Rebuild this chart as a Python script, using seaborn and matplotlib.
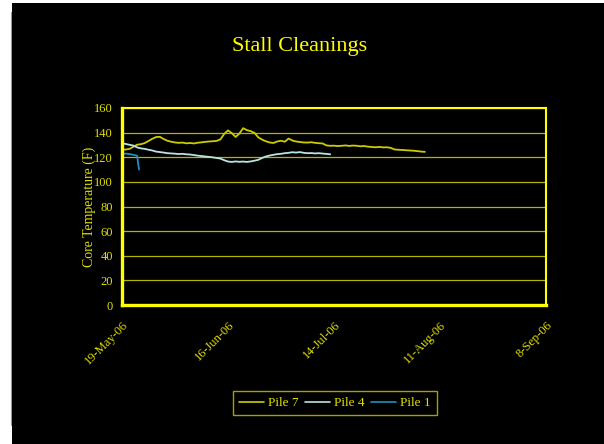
import numpy as np
import pandas as pd
import matplotlib
matplotlib.use("Agg")
import matplotlib.pyplot as plt
import matplotlib.dates as mdates
from matplotlib.patches import Rectangle
from matplotlib.lines import Line2D
import seaborn as sns

# Daily core temperature readings (F), starting 19-May-2006
pile7_start = "2006-05-19"
pile7_temp = [126.0, 126.3, 126.8, 128.5, 130.2, 130.6, 131.5, 133.2, 135.0, 136.4,
              136.6, 134.8, 133.4, 132.6, 132.0, 131.7, 131.9, 131.3, 131.6, 131.2,
              131.8, 132.1, 132.5, 132.8, 133.0, 133.3, 134.5, 139.0, 141.8, 139.6,
              136.5, 139.2, 143.6, 142.0, 141.2, 139.8, 136.2, 134.3, 133.0, 132.0,
              131.6, 132.8, 133.4, 132.6, 135.2, 133.6, 132.8, 132.4, 132.0, 131.9,
              132.2, 131.7, 131.4, 131.2, 129.6, 129.3, 129.4, 129.1, 129.3, 129.6,
              129.2, 129.5, 129.3, 128.9, 129.1, 128.6, 128.3, 128.1, 128.4, 128.0,
              128.1, 127.6, 126.3, 126.1, 125.9, 125.7, 125.5, 125.3, 125.0, 124.6,
              124.4]

pile4_start = "2006-05-19"
pile4_temp = [131.3, 130.8, 130.1, 129.5, 128.0, 127.2, 126.8, 126.1, 125.5, 124.6,
              124.2, 123.8, 123.3, 123.1, 122.9, 122.6, 122.8, 122.4, 122.2, 121.8,
              121.3, 121.0, 120.6, 120.3, 119.9, 119.4, 118.9, 117.6, 116.5, 116.2,
              116.6, 116.3, 116.5, 116.2, 116.6, 117.2, 117.9, 119.4, 120.6, 121.4,
              122.0, 122.5, 122.8, 123.3, 123.6, 124.1, 123.8, 124.2, 123.6, 123.3,
              123.4, 123.1, 123.3, 123.0, 122.7, 122.4]

pile1_times = ["2006-05-19 00:00", "2006-05-20 00:00", "2006-05-21 00:00",
               "2006-05-22 00:00", "2006-05-23 00:00", "2006-05-23 05:00",
               "2006-05-23 12:00"]
pile1_temp = [122.4, 123.0, 122.6, 122.0, 121.2, 116.0, 110.0]

series_names = ["Pile 7", "Pile 4", "Pile 1"]
series_colors = ["#CCCC00", "#B8E4E4", "#1E8FC0"]

tick_dates = ["2006-05-19", "2006-06-16", "2006-07-14", "2006-08-11", "2006-09-08"]
tick_labels = ["19-May-06", "16-Jun-06", "14-Jul-06", "11-Aug-06", "8-Sep-06"]
y_ticks = [0, 20, 40, 60, 80, 100, 120, 140, 160]

frames = [
    pd.DataFrame({"date": pd.date_range(pile7_start, periods=len(pile7_temp), freq="D"),
                  "temp": pile7_temp, "pile": "Pile 7"}),
    pd.DataFrame({"date": pd.date_range(pile4_start, periods=len(pile4_temp), freq="D"),
                  "temp": pile4_temp, "pile": "Pile 4"}),
    pd.DataFrame({"date": pd.to_datetime(pile1_times), "temp": pile1_temp, "pile": "Pile 1"}),
]
df = pd.concat(frames, ignore_index=True)

sns.set_theme(style="dark")
plt.rcParams["font.family"] = ["Liberation Serif", "DejaVu Serif"]

YEL = "#FFFF00"
TXT = "#E0E000"
GRID = "#B4B400"

fig = plt.figure(figsize=(6.04, 4.44), dpi=100, facecolor="white")
fig.patches.append(Rectangle((12 / 604, 0), 1 - 12 / 604, 441 / 444,
                             transform=fig.transFigure, facecolor="black",
                             edgecolor="none", zorder=-5))
fig.lines.append(Line2D([11 / 604, 11 / 604], [19 / 444, 432 / 444],
                        transform=fig.transFigure, color="#9A9A9A", lw=0.8,
                        zorder=-5))

ax = fig.add_axes([122 / 604, 139 / 444, 424 / 604, 197 / 444])
ax.set_zorder(2)
ax.set_facecolor("black")

sns.lineplot(data=df, x="date", y="temp", hue="pile", hue_order=series_names,
             palette=series_colors, linewidth=1.3, ax=ax, legend=False,
             estimator=None, sort=False)

ax.set_xlim(pd.Timestamp(tick_dates[0]), pd.Timestamp(tick_dates[-1]))
ax.set_ylim(0, 160)
ax.set_yticks(y_ticks)
ax.set_xticks([pd.Timestamp(d) for d in tick_dates])
ax.set_xticklabels(tick_labels, rotation=45, ha="right", va="top",
                   rotation_mode="anchor")

ax.grid(False)
ax.yaxis.grid(True, color=GRID, linewidth=0.9)
ax.set_axisbelow(True)

for side in ["left", "bottom"]:
    ax.spines[side].set_color(YEL)
    ax.spines[side].set_linewidth(2.4)
for side in ["top", "right"]:
    ax.spines[side].set_color(YEL)
    ax.spines[side].set_linewidth(1.5)

ax.tick_params(axis="y", direction="inout", length=7, width=2, color=YEL,
               labelcolor=TXT, labelsize=9, pad=3)
ax.tick_params(axis="x", direction="inout", length=6, width=2, color=YEL,
               labelcolor=TXT, labelsize=9, pad=7)

ax.set_xlabel("")
ax.set_ylabel("Core Temperature (F)", color=TXT, fontsize=10, labelpad=-1)

fig.text(300 / 604, 1 - 47 / 444, "Stall Cleanings", color=YEL, fontsize=16,
         ha="center", va="center")

handles = [Line2D([], [], color=c, lw=1.2) for c in series_colors]
leg = fig.legend(handles, series_names, loc="center",
                 bbox_to_anchor=(335 / 604, 1 - 403 / 444), ncol=3,
                 frameon=True, fancybox=False, fontsize=9.5, handlelength=1.9,
                 handletextpad=0.3, columnspacing=0.5, borderpad=0.45,
                 borderaxespad=0)
leg.get_frame().set_facecolor("black")
leg.get_frame().set_edgecolor("#CCCC00")
leg.get_frame().set_linewidth(1.0)
for t in leg.get_texts():
    t.set_color(TXT)

fig.savefig("out.png", dpi=100, facecolor=fig.get_facecolor())
